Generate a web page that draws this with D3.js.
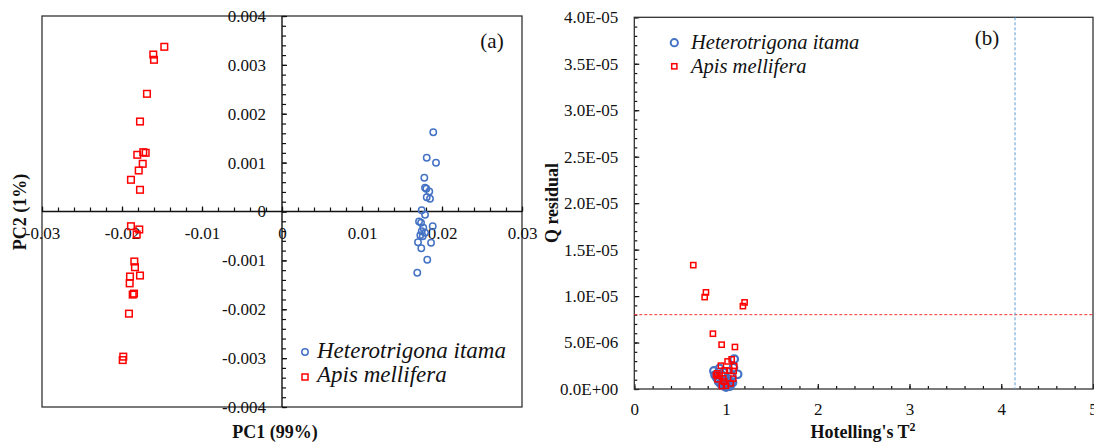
<!DOCTYPE html>
<html><head><meta charset="utf-8">
<script src="https://cdn.jsdelivr.net/npm/d3@7"></script>
<style>
html,body{margin:0;padding:0;background:#fff;}
svg{display:block;font-family:"Liberation Serif","Times New Roman",serif;}
</style></head>
<body><svg id="chart" width="1094" height="443"></svg>
<script>
// ---------- Panel (a) data: PCA scores ----------
const seriesNames = ["Heterotrigona itama", "Apis mellifera"];
const itamaPC1 = [0.01891,0.01809,0.01925,0.01779,0.01788,0.01804,0.01841,0.01809,0.0185,0.01746,0.01788,0.01713,0.01738,0.01884,0.01766,0.01746,0.01788,0.01729,0.01759,0.017,0.01863,0.01741,0.01816,0.01691];
const itamaPC2 = [0.001622,0.001099,0.000996,0.00069,0.000485,0.000464,0.000409,0.000293,0.00026,0.000027,-0.000068,-0.000205,-0.000231,-0.000301,-0.000334,-0.000403,-0.000436,-0.000485,-0.000505,-0.000628,-0.00064,-0.000751,-0.000988,-0.001254];
const apisPC1 = [-0.01471,-0.01609,-0.016,-0.01688,-0.01775,-0.01734,-0.01704,-0.01809,-0.01741,-0.01791,-0.01888,-0.01775,-0.01888,-0.01784,-0.01816,-0.01846,-0.01838,-0.01775,-0.019,-0.01904,-0.0185,-0.01866,-0.01913,-0.01984,-0.01991];
const apisPC2 = [0.00337,0.003212,0.003104,0.002408,0.001841,0.001213,0.001201,0.00116,0.000976,0.000839,0.000649,0.000444,-0.000301,-0.000368,-0.000471,-0.001023,-0.00114,-0.00131,-0.00133,-0.00147,-0.00168,-0.0017,-0.00209,-0.00297,-0.00304];
const pcXTicks = [-0.03,-0.02,-0.01,0,0.01,0.02,0.03];
const pcXLabels = ["-0.03","-0.02","-0.01","0","0.01","0.02","0.03"];
const pcYTicks = [-0.004,-0.003,-0.002,-0.001,0,0.001,0.002,0.003,0.004];
const pcYLabels = ["-0.004","-0.003","-0.002","-0.001","0","0.001","0.002","0.003","0.004"];

// ---------- Panel (b) data: Hotelling's T2 vs Q residual ----------
const itamaT2 = [1.089,0.868,1.126,0.88,0.9,0.92,0.94,0.95,0.96,0.97,0.98,0.99,1.0,1.01,1.02,1.03,1.04,1.05,1.06,1.07,1.08,0.93,0.97,1.0,1.04];
const itamaQ  = [3.22e-6,1.94e-6,1.58e-6,1.5e-6,1.2e-6,0.8e-6,0.6e-6,1.5e-6,0.4e-6,0.9e-6,0.5e-6,0.3e-6,0.2e-6,0.6e-6,1.1e-6,0.4e-6,0.8e-6,0.5e-6,1.4e-6,0.7e-6,2.3e-6,2.2e-6,1.8e-6,1.0e-6,0.3e-6];
const apisT2 = [0.643,0.781,0.767,1.202,1.184,0.857,0.952,1.097,1.061,1.017,0.944,1.089,0.988,1.035,1.083,0.904,0.89,0.97,1.078,0.908,0.955,0.999,0.93,1.05,0.98];
const apisQ  = [1.333e-5,1.04e-5,0.989e-5,0.932e-5,0.892e-5,5.95e-6,4.77e-6,4.52e-6,3.19e-6,2.97e-6,2.51e-6,2.47e-6,2.0e-6,1.97e-6,1.94e-6,1.69e-6,1.5e-6,1.15e-6,1.11e-6,1.04e-6,0.32e-6,0.35e-6,1.4e-6,0.6e-6,0.8e-6];
const qLimit = 8.0e-6;
const t2Limit = 4.15;
const t2Ticks = [0,1,2,3,4,5];
const t2Labels = ["0","1","2","3","4","5"];
const qTicks = [0,5e-6,1e-5,1.5e-5,2e-5,2.5e-5,3e-5,3.5e-5,4e-5];
const qLabels = ["0.0E+00","5.0E-06","1.0E-05","1.5E-05","2.0E-05","2.5E-05","3.0E-05","3.5E-05","4.0E-05"];

const RED = "#ff0000", BLUE = "#4472c4";
const svg = d3.select("#chart");

function styleAxis(g, fontSize){
  g.select(".domain").remove();
  g.selectAll(".tick line").attr("stroke","#111").attr("stroke-width",1.2);
  g.selectAll(".tick text").attr("fill","#111").attr("font-size",fontSize)
    .attr("font-family","Liberation Serif, Times New Roman, serif");
}

// ================= Panel (a) =================
{
  const L=42, R=522, T=16, B=407;
  const x = d3.scaleLinear().domain([-0.03,0.03]).range([L,R]);
  const y = d3.scaleLinear().domain([-0.004,0.004]).range([B,T]);
  const g = svg.append("g");
  g.append("rect").attr("x",L).attr("y",T).attr("width",R-L).attr("height",B-T)
    .attr("fill","none").attr("stroke","#333").attr("stroke-width",1.3);

  const x0 = x(0), y0 = y(0);
  const xMinor = d3.range(-0.03,0.0301,0.002).map(v=>+v.toFixed(4));
  const yMinor = d3.range(-0.004,0.00401,0.0002).map(v=>+v.toFixed(5));
  const gxm = g.append("g").attr("transform",`translate(0,${y0})`)
    .call(d3.axisBottom(x).tickValues(xMinor).tickSize(-4).tickFormat(""));
  styleAxis(gxm,17);
  const gym = g.append("g").attr("transform",`translate(${x0},0)`)
    .call(d3.axisLeft(y).tickValues(yMinor).tickSize(-4).tickFormat(""));
  styleAxis(gym,17);
  const gx = g.append("g").attr("transform",`translate(0,${y0})`)
    .call(d3.axisBottom(x).tickValues(pcXTicks).tickSize(-5).tickPadding(15)
      .tickFormat((d,i)=>pcXLabels[i]));
  styleAxis(gx,17);
  const gy = g.append("g").attr("transform",`translate(${x0},0)`)
    .call(d3.axisLeft(y).tickValues(pcYTicks).tickSize(-5).tickPadding(16)
      .tickFormat((d,i)=>pcYLabels[i]));
  styleAxis(gy,17);
  g.append("line").attr("x1",L).attr("x2",R).attr("y1",y0).attr("y2",y0).attr("stroke","#111").attr("stroke-width",1.4);
  g.append("line").attr("x1",x0).attr("x2",x0).attr("y1",T).attr("y2",B).attr("stroke","#111").attr("stroke-width",1.4);

  g.append("g").selectAll("circle").data(d3.range(itamaPC1.length)).join("circle")
    .attr("cx",i=>x(itamaPC1[i])).attr("cy",i=>y(itamaPC2[i])).attr("r",3.2)
    .attr("fill","none").attr("stroke",BLUE).attr("stroke-width",1.5);
  g.append("g").selectAll("rect").data(d3.range(apisPC1.length)).join("rect")
    .attr("x",i=>x(apisPC1[i])-3.3).attr("y",i=>y(apisPC2[i])-3.3).attr("width",6.6).attr("height",6.6)
    .attr("fill","none").attr("stroke",RED).attr("stroke-width",1.5);

  g.append("text").attr("x",275).attr("y",438).attr("text-anchor","middle")
    .attr("font-weight","bold").attr("font-size",18).attr("fill","#111").text("PC1 (99%)");
  g.append("text").attr("transform","translate(26,212) rotate(-90)").attr("text-anchor","middle")
    .attr("font-weight","bold").attr("font-size",18).attr("fill","#111").text("PC2 (1%)");
  g.append("text").attr("x",492).attr("y",48).attr("text-anchor","middle")
    .attr("font-size",21).attr("fill","#111").text("(a)");

  g.append("circle").attr("cx",305).attr("cy",352).attr("r",3.2).attr("fill","none").attr("stroke",BLUE).attr("stroke-width",1.5);
  g.append("rect").attr("x",302).attr("y",374).attr("width",6).attr("height",6).attr("fill","none").attr("stroke",RED).attr("stroke-width",1.5);
  g.append("text").attr("x",317).attr("y",358).attr("font-style","italic").attr("font-size",23).attr("fill","#111").text(seriesNames[0]);
  g.append("text").attr("x",317).attr("y",382).attr("font-style","italic").attr("font-size",23).attr("fill","#111").text(seriesNames[1]);
}

// ================= Panel (b) =================
{
  const L=634.3, R=1093, T=17.3, B=389;
  const x = d3.scaleLinear().domain([0,5]).range([L,R]);
  const y = d3.scaleLinear().domain([0,4e-5]).range([B,T]);
  const g = svg.append("g");

  const xMinor = d3.range(0,5.01,0.2).map(v=>+v.toFixed(2));
  const yMinor = d3.range(0,4.01e-5,1e-6).map(v=>+v.toExponential(3));
  const gxm = g.append("g").attr("transform",`translate(0,${B})`)
    .call(d3.axisBottom(x).tickValues(xMinor).tickSize(-3).tickFormat(""));
  styleAxis(gxm,17);
  const gym = g.append("g").attr("transform",`translate(${L},0)`)
    .call(d3.axisLeft(y).tickValues(yMinor).tickSize(-3).tickFormat(""));
  styleAxis(gym,17);
  const gx = g.append("g").attr("transform",`translate(0,${B})`)
    .call(d3.axisBottom(x).tickValues(t2Ticks).tickSize(-5).tickPadding(14)
      .tickFormat((d,i)=>t2Labels[i]));
  styleAxis(gx,17);
  const gy = g.append("g").attr("transform",`translate(${L},0)`)
    .call(d3.axisLeft(y).tickValues(qTicks).tickSize(-5).tickPadding(16)
      .tickFormat((d,i)=>qLabels[i]));
  styleAxis(gy,17);

  g.append("rect").attr("x",L).attr("y",T).attr("width",R-L).attr("height",B-T)
    .attr("fill","none").attr("stroke","#333").attr("stroke-width",1.3);

  g.append("line").attr("x1",L).attr("x2",R).attr("y1",y(qLimit)).attr("y2",y(qLimit))
    .attr("stroke","#ff3030").attr("stroke-width",1).attr("stroke-dasharray","3,2");
  g.append("line").attr("x1",x(t2Limit)).attr("x2",x(t2Limit)).attr("y1",T).attr("y2",B)
    .attr("stroke","#5b9bd5").attr("stroke-width",1).attr("stroke-dasharray","3,2");

  g.append("g").selectAll("circle").data(d3.range(itamaT2.length)).join("circle")
    .attr("cx",i=>x(itamaT2[i])).attr("cy",i=>y(itamaQ[i])).attr("r",3.8)
    .attr("fill","none").attr("stroke",BLUE).attr("stroke-width",2.2);
  g.append("g").selectAll("rect").data(d3.range(apisT2.length)).join("rect")
    .attr("x",i=>x(apisT2[i])-2.6).attr("y",i=>y(apisQ[i])-2.6).attr("width",5.2).attr("height",5.2)
    .attr("fill","none").attr("stroke",RED).attr("stroke-width",1.5);

  const tt = g.append("text").attr("x",863).attr("y",438).attr("text-anchor","middle")
    .attr("font-weight","bold").attr("font-size",18).attr("fill","#111");
  tt.append("tspan").text("Hotelling's T");
  tt.append("tspan").attr("font-size",12).attr("dy",-7).text("2");
  g.append("text").attr("transform","translate(558,203) rotate(-90)").attr("text-anchor","middle")
    .attr("font-weight","bold").attr("font-size",18).attr("fill","#111").text("Q residual");
  g.append("text").attr("x",987).attr("y",45).attr("text-anchor","middle")
    .attr("font-size",21).attr("fill","#111").text("(b)");

  g.append("circle").attr("cx",674.3).attr("cy",42.7).attr("r",3.6).attr("fill","none").attr("stroke",BLUE).attr("stroke-width",2);
  g.append("rect").attr("x",671.7).attr("y",63.7).attr("width",5.2).attr("height",5.2).attr("fill","none").attr("stroke",RED).attr("stroke-width",1.5);
  g.append("text").attr("x",691).attr("y",49).attr("font-style","italic").attr("font-size",20.5).attr("fill","#111").text(seriesNames[0]);
  g.append("text").attr("x",691).attr("y",73).attr("font-style","italic").attr("font-size",20.5).attr("fill","#111").text(seriesNames[1]);
}
</script></body></html>
